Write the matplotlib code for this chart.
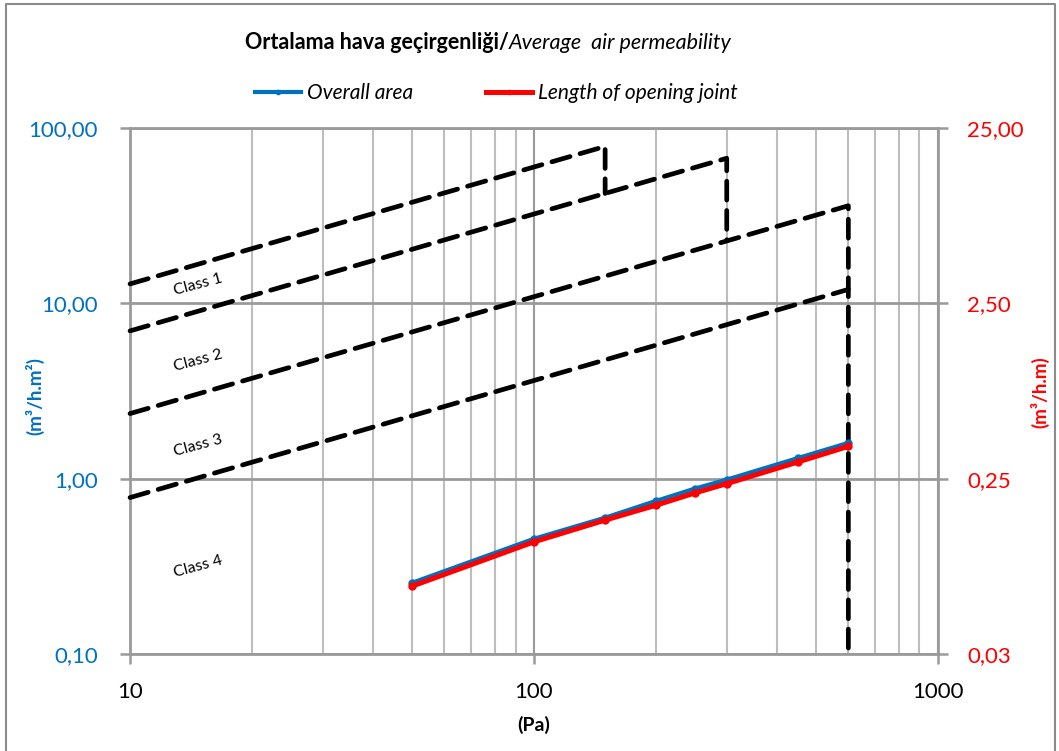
import matplotlib
matplotlib.use("Agg")
import matplotlib.pyplot as plt
from matplotlib.lines import Line2D

plt.rcParams["font.family"] = ["Lato", "DejaVu Sans"]

# pressure (Pa) and measured air permeability
pressure = [50, 100, 150, 200, 250, 300, 450, 600]
overall_area = [0.255, 0.454, 0.599, 0.745, 0.877, 0.987, 1.31, 1.60]  # m3/h.m2
opening_joint = [0.061, 0.109, 0.145, 0.176, 0.207, 0.234, 0.311, 0.382]  # m3/h.m

# class limit lines (x, y)
class_x = {
    "Class 1": [10, 150, 150],
    "Class 2": [10, 300, 300],
    "Class 3": [10, 600, 600],
    "Class 4": [10, 600],
}
class_y = {
    "Class 1": [12.9, 78.5, 42.3],
    "Class 2": [6.96, 67.2, 22.7],
    "Class 3": [2.35, 36.0, 0.1],
    "Class 4": [0.78, 12.0],
}
class_label_pos = {
    "Class 1": (14.7, 12.7),
    "Class 2": (14.7, 4.7),
    "Class 3": (14.7, 1.55),
    "Class 4": (14.7, 0.316),
}

x_ticks = [10, 100, 1000]
x_ticklabels = ["10", "100", "1000"]
left_ticks = [0.1, 1, 10, 100]
left_ticklabels = ["0,10", "1,00", "10,00", "100,00"]
right_ticks = [0.025, 0.25, 2.5, 25]
right_ticklabels = ["0,03", "0,25", "2,50", "25,00"]

blue = "#0070C0"
red = "#FF0000"
grid_major = "#9a9a9a"
grid_minor = "#bdbdbd"

fig = plt.figure(figsize=(10.59, 7.51), dpi=100)
ax = fig.add_axes([0.1228, 0.1292, 0.7629, 0.7004])

ax.set_xscale("log")
ax.set_yscale("log")
ax.set_xlim(10, 1000)
ax.set_ylim(0.1, 100)

# class lines
for name in class_x:
    ax.plot(class_x[name], class_y[name], color="black", lw=3.4,
            linestyle=(0, (4, 2.2)), dash_capstyle="round", zorder=3,
            clip_on=False)
    lx, ly = class_label_pos[name]
    ax.text(lx, ly, name, fontsize=11.5, rotation=15, ha="center",
            va="center", zorder=4)

ax.plot(pressure, overall_area, color=blue, lw=3, marker="o", ms=5,
        zorder=5, label="Overall area")

ax.set_xticks(x_ticks)
ax.set_xticklabels(x_ticklabels)
ax.set_yticks(left_ticks)
ax.set_yticklabels(left_ticklabels)
ax.yaxis.set_minor_locator(matplotlib.ticker.NullLocator())
ax.tick_params(axis="x", which="major", length=7, width=1.8, color=grid_major,
               pad=13, labelsize=16)
ax.tick_params(axis="x", which="minor", length=0)
ax.tick_params(axis="y", which="major", length=7, width=1.8, color=grid_major,
               pad=16, labelsize=16, labelcolor=blue)
ax.grid(True, which="major", axis="x", color=grid_major, lw=1.5)
ax.grid(True, which="minor", axis="x", color=grid_minor, lw=1.5)
ax.grid(True, which="major", axis="y", color=grid_major, lw=2)
for sp in ax.spines.values():
    sp.set_color(grid_major)
    sp.set_linewidth(2)

ax.set_xlabel("(Pa)", fontsize=14, fontweight="bold", labelpad=10)

ax2 = ax.twinx()
ax2.set_yscale("log")
ax2.set_ylim(0.025, 25)
ax2.plot(pressure, opening_joint, color=red, lw=3.6, marker="o", ms=5,
         zorder=6, label="Length of opening joint")
ax2.set_yticks(right_ticks)
ax2.set_yticklabels(right_ticklabels)
ax2.yaxis.set_minor_locator(matplotlib.ticker.NullLocator())
ax2.tick_params(axis="y", which="major", length=7, width=1.8, color=grid_major,
                pad=14, labelsize=16, labelcolor=red)
for sp in ax2.spines.values():
    sp.set_visible(False)

# axis titles placed in figure coordinates
fig.text(35 / 1059, 1 - 396 / 751, "(m³/h.m²)", fontsize=13.5,
         fontweight="bold", color=blue, rotation=90, ha="center", va="center")
fig.text(1040 / 1059, 1 - 392 / 751, "(m³/h.m)", fontsize=13.5,
         fontweight="bold", color=red, rotation=90, ha="center", va="center")

# legend
handles = [
    Line2D([], [], color=blue, lw=3, marker="o", ms=3),
    Line2D([], [], color=red, lw=3.6, marker="o", ms=3),
]
fig.legend(handles, ["Overall area", "Length of opening joint"],
           loc="center", bbox_to_anchor=(0.469, 0.876), ncol=2,
           frameon=False, prop={"style": "italic", "size": 15},
           handlelength=2.2, handletextpad=0.3, columnspacing=3.5,
           numpoints=1)

# title: bold Turkish part + italic English part
t1 = fig.text(0.5, 0.943, "Ortalama hava geçirgenliği/", fontsize=15.5,
              fontweight="bold", ha="left", va="center")
t2 = fig.text(0.5, 0.943, "Average  air permeability", fontsize=15.5,
              style="italic", ha="left", va="center")
fig.canvas.draw()
r = fig.canvas.get_renderer()
w1 = t1.get_window_extent(r).width / fig.bbox.width
w2 = t2.get_window_extent(r).width / fig.bbox.width
left = 0.461 - (w1 + w2) / 2
t1.set_x(left)
t2.set_x(left + w1)

# chart border
fig.add_artist(Line2D([0.006, 0.006, 0.996, 0.996], [0.0, 0.995, 0.995, 0.0],
                      transform=fig.transFigure, color="#8c8c8c", lw=1.5))

fig.savefig("out.png", dpi=100)
